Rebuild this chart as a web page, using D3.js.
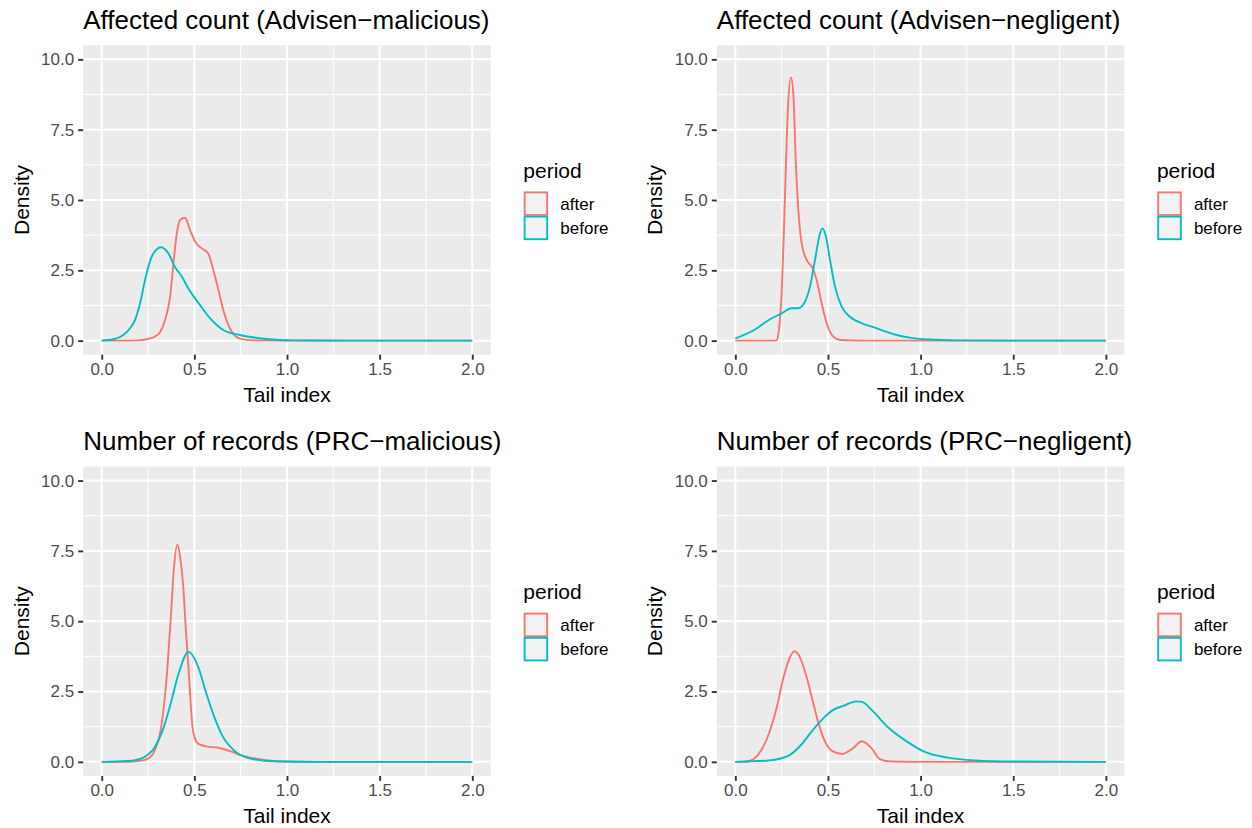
<!DOCTYPE html>
<html>
<head>
<meta charset="utf-8">
<script src="https://cdn.jsdelivr.net/npm/d3@7"></script>
<style>
  html, body { margin: 0; padding: 0; background: #ffffff; }
  svg { display: block; font-family: "Liberation Sans", Arial, Helvetica, sans-serif; }
</style>
</head>
<body>
<svg id="chart" width="1252" height="828"></svg>
<script>
// ---------- data ----------
const titles = [
  "Affected count (Advisen\u2212malicious)",
  "Affected count (Advisen\u2212negligent)",
  "Number of records (PRC\u2212malicious)",
  "Number of records (PRC\u2212negligent)"
];
const seriesNames = ["after", "before"];
const seriesColors = ["#F8766D", "#00BFC4"];
const xTicks = [0, 0.5, 1, 1.5, 2];
const xTickLabels = ["0.0", "0.5", "1.0", "1.5", "2.0"];
const yTicks = [0, 2.5, 5, 7.5, 10];
const yTickLabels = ["0.0", "2.5", "5.0", "7.5", "10.0"];
const xMinor = [0.25, 0.75, 1.25, 1.75];
const yMinor = [1.25, 3.75, 6.25, 8.75];
const xLabel = "Tail index";
const yLabel = "Density";
const legendTitle = "period";

// Panel 1: Advisen-malicious
const p1AfterX  = [0, 0.1, 0.2, 0.243, 0.28, 0.315, 0.342, 0.369, 0.387, 0.405, 0.423, 0.45, 0.477, 0.504, 0.54, 0.575, 0.602, 0.63, 0.656, 0.683, 0.71, 0.746, 0.818, 1.0, 2.0];
const p1AfterY  = [0, 0, 0.01, 0.05, 0.12, 0.3, 0.74, 1.56, 2.75, 3.8, 4.29, 4.37, 3.93, 3.52, 3.28, 3.1, 2.51, 1.8, 1.09, 0.56, 0.24, 0.07, 0.01, 0, 0];
const p1BeforeX = [0, 0.01, 0.063, 0.117, 0.153, 0.18, 0.207, 0.234, 0.27, 0.32, 0.36, 0.396, 0.432, 0.467, 0.53, 0.584, 0.656, 0.746, 0.89, 1.05, 1.3, 2.0];
const p1BeforeY = [0, 0.01, 0.05, 0.2, 0.44, 0.74, 1.33, 2.16, 2.99, 3.32, 3.1, 2.61, 2.28, 1.86, 1.27, 0.8, 0.38, 0.2, 0.06, 0.01, 0, 0];

// Panel 2: Advisen-negligent
const p2AfterX  = [0, 0.2, 0.223, 0.237, 0.25, 0.263, 0.274, 0.286, 0.30, 0.313, 0.326, 0.34, 0.358, 0.385, 0.418, 0.439, 0.466, 0.493, 0.529, 0.565, 0.7, 2.0];
const p2AfterY  = [0, 0, 0.02, 0.5, 1.68, 4.05, 6.42, 8.55, 9.36, 8.79, 6.42, 4.64, 3.46, 2.87, 2.57, 2.16, 1.33, 0.62, 0.14, 0.02, 0, 0];
const p2BeforeX = [0, 0.097, 0.187, 0.25, 0.304, 0.34, 0.376, 0.403, 0.43, 0.453, 0.469, 0.489, 0.511, 0.538, 0.574, 0.619, 0.69, 0.75, 0.8, 0.87, 0.95, 1.05, 1.2, 1.5, 2.0];
const p2BeforeY = [0.08, 0.36, 0.76, 0.97, 1.15, 1.15, 1.39, 1.92, 2.87, 3.7, 3.99, 3.7, 2.87, 1.92, 1.21, 0.85, 0.6, 0.47, 0.35, 0.2, 0.1, 0.04, 0.01, 0, 0];

// Panel 3: PRC-malicious
const p3AfterX  = [0, 0.15, 0.222, 0.26, 0.286, 0.318, 0.346, 0.372, 0.39, 0.408, 0.425, 0.44, 0.455, 0.469, 0.48, 0.49, 0.505, 0.521, 0.565, 0.629, 0.693, 0.758, 0.843, 0.95, 1.1, 2.0];
const p3AfterY  = [0, 0, 0.05, 0.15, 0.4, 1.12, 2.66, 5.04, 6.9, 7.73, 7.2, 6.22, 4.6, 3.25, 2.1, 1.23, 0.8, 0.64, 0.55, 0.5, 0.38, 0.22, 0.1, 0.02, 0, 0];
const p3BeforeX = [0, 0.136, 0.18, 0.222, 0.286, 0.329, 0.372, 0.415, 0.469, 0.521, 0.565, 0.608, 0.65, 0.715, 0.779, 0.865, 0.99, 1.2, 2.0];
const p3BeforeY = [0, 0.03, 0.06, 0.14, 0.52, 1.12, 2.07, 3.14, 3.91, 3.37, 2.42, 1.59, 0.94, 0.4, 0.16, 0.05, 0.01, 0, 0];

// Panel 4: PRC-negligent
const p4AfterX  = [0, 0.05, 0.074, 0.1, 0.139, 0.181, 0.224, 0.256, 0.288, 0.32, 0.352, 0.385, 0.417, 0.45, 0.481, 0.524, 0.577, 0.631, 0.684, 0.738, 0.78, 0.845, 1.0, 2.0];
const p4AfterY  = [0, 0, 0.03, 0.1, 0.4, 1.0, 1.95, 2.9, 3.61, 3.93, 3.67, 3.01, 2.18, 1.35, 0.76, 0.38, 0.28, 0.46, 0.73, 0.46, 0.1, 0.01, 0, 0];
const p4BeforeX = [0, 0.18, 0.288, 0.352, 0.417, 0.481, 0.524, 0.588, 0.652, 0.684, 0.738, 0.824, 0.931, 1.016, 1.145, 1.294, 1.5, 2.0];
const p4BeforeY = [0, 0.05, 0.22, 0.58, 1.12, 1.59, 1.83, 2.0, 2.15, 2.13, 1.83, 1.23, 0.7, 0.37, 0.15, 0.05, 0.01, 0];

const panelSeries = [
  [[p1AfterX, p1AfterY], [p1BeforeX, p1BeforeY]],
  [[p2AfterX, p2AfterY], [p2BeforeX, p2BeforeY]],
  [[p3AfterX, p3AfterY], [p3BeforeX, p3BeforeY]],
  [[p4AfterX, p4AfterY], [p4BeforeX, p4BeforeY]]
];

// ---------- layout ----------
const panelLefts = [83.2, 716.8];
const panelTops = [45.3, 466.5];
const panelW = 407.6, panelH = 309.4;

const svg = d3.select("#chart");

panelSeries.forEach((series, i) => {
  const col = i % 2, row = Math.floor(i / 2);
  const pl = panelLefts[col], pt = panelTops[row];

  const x = d3.scaleLinear().domain([-0.1, 2.1]).range([pl, pl + panelW]);
  const y = d3.scaleLinear().domain([-0.5, 10.5]).range([pt + panelH, pt]);

  const g = svg.append("g");

  // panel background
  g.append("rect").attr("x", pl).attr("y", pt).attr("width", panelW).attr("height", panelH).attr("fill", "#EBEBEB");

  // minor grid
  g.selectAll(".xminor").data(xMinor).enter().append("line")
    .attr("x1", d => x(d)).attr("x2", d => x(d)).attr("y1", pt).attr("y2", pt + panelH)
    .attr("stroke", "#ffffff").attr("stroke-width", 1);
  g.selectAll(".yminor").data(yMinor).enter().append("line")
    .attr("x1", pl).attr("x2", pl + panelW).attr("y1", d => y(d)).attr("y2", d => y(d))
    .attr("stroke", "#ffffff").attr("stroke-width", 1);
  // major grid
  g.selectAll(".xmajor").data(xTicks).enter().append("line")
    .attr("x1", d => x(d)).attr("x2", d => x(d)).attr("y1", pt).attr("y2", pt + panelH)
    .attr("stroke", "#ffffff").attr("stroke-width", 2);
  g.selectAll(".ymajor").data(yTicks).enter().append("line")
    .attr("x1", pl).attr("x2", pl + panelW).attr("y1", d => y(d)).attr("y2", d => y(d))
    .attr("stroke", "#ffffff").attr("stroke-width", 2);

  // curves
  const line = d3.line().x(d => x(d[0])).y(d => y(d[1])).curve(d3.curveMonotoneX);
  series.forEach((s, k) => {
    const pts = s[0].map((xv, j) => [xv, s[1][j]]);
    g.append("path").attr("d", line(pts)).attr("fill", "none")
      .attr("stroke", seriesColors[k]).attr("stroke-width", 1.9).attr("stroke-linejoin", "round");
  });

  // axes
  const xAxis = d3.axisBottom(x).tickValues(xTicks).tickFormat((d, j) => xTickLabels[j]).tickSize(5).tickPadding(3);
  const gx = g.append("g").attr("transform", `translate(0,${pt + panelH})`).call(xAxis);
  gx.select(".domain").remove();
  gx.selectAll(".tick line").attr("stroke", "#333333").attr("stroke-width", 1.9);
  gx.selectAll(".tick text").attr("fill", "#4D4D4D").attr("font-size", "17px")
    .attr("font-family", "'Liberation Sans', Arial, sans-serif");

  const yAxis = d3.axisLeft(y).tickValues(yTicks).tickFormat((d, j) => yTickLabels[j]).tickSize(5).tickPadding(4);
  const gy = g.append("g").attr("transform", `translate(${pl},0)`).call(yAxis);
  gy.select(".domain").remove();
  gy.selectAll(".tick line").attr("stroke", "#333333").attr("stroke-width", 1.9);
  gy.selectAll(".tick text").attr("fill", "#4D4D4D").attr("font-size", "17px")
    .attr("font-family", "'Liberation Sans', Arial, sans-serif");

  // axis titles
  g.append("text").attr("x", pl + panelW / 2).attr("y", pt + panelH + 47)
    .attr("text-anchor", "middle").attr("font-size", "21px").attr("fill", "#000").text(xLabel);
  g.append("text").attr("transform", `translate(${pl - 54.5},${pt + panelH / 2}) rotate(-90)`)
    .attr("text-anchor", "middle").attr("font-size", "21px").attr("fill", "#000").text(yLabel);

  // panel title
  g.append("text").attr("x", pl).attr("y", pt - 16.8)
    .attr("font-size", "26px").attr("fill", "#000").text(titles[i]);

  // legend
  const lx = pl + 440.1, ly = pt;
  g.append("text").attr("x", lx).attr("y", ly + 132.3).attr("font-size", "21px").attr("fill", "#000").text(legendTitle);
  const keySize = 24.2;
  seriesNames.forEach((name, k) => {
    const ky = ly + 146.3 + k * keySize;
    g.append("rect").attr("x", lx + 0.5).attr("y", ky).attr("width", keySize).attr("height", keySize).attr("fill", "#F2F2F2");
    g.append("rect").attr("x", lx + 1.3).attr("y", ky + 0.8).attr("width", keySize - 1.6).attr("height", keySize - 1.6)
      .attr("fill", "none").attr("stroke", seriesColors[k]).attr("stroke-width", 1.9);
    g.append("text").attr("x", lx + 37).attr("y", ky + keySize / 2).attr("dy", "0.36em")
      .attr("font-size", "17px").attr("fill", "#000").text(name);
  });
});
</script>
</body>
</html>
